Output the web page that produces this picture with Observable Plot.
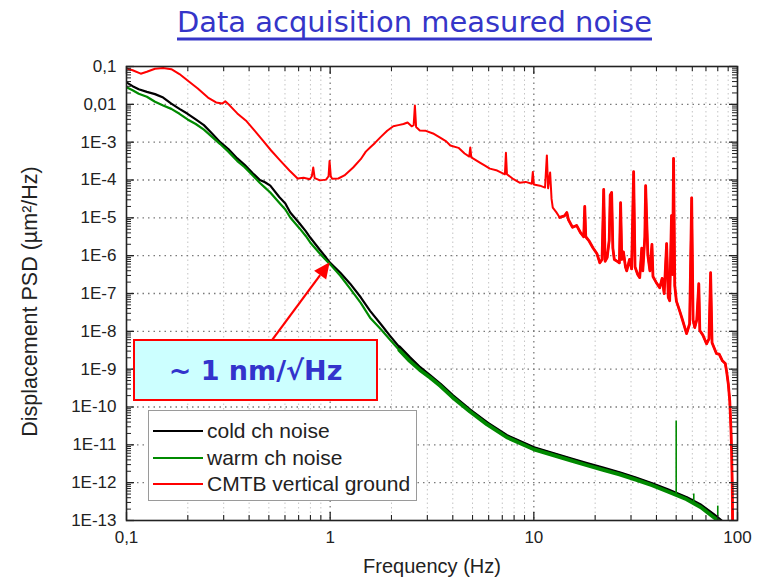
<!DOCTYPE html>
<html>
<head>
<meta charset="utf-8">
<script src="https://cdn.jsdelivr.net/npm/d3@7"></script>
<script src="https://cdn.jsdelivr.net/npm/@observablehq/plot@0.6"></script>
<style>
  body { margin: 0; background: #fff; }
  #wrap { position: relative; width: 758px; height: 587px; overflow: hidden; font-family: "Liberation Sans", Arial, sans-serif; }
  #title { position: absolute; left: 0; top: 0; }
  #chart { position: absolute; left: 0; top: 45px; }
  #legend { position: absolute; left: 148px; top: 410px; width: 269px; height: 91px; background: #fff; border: 1px solid #9a9a9a; box-sizing: border-box; }
  .lrow { position: absolute; left: 0; height: 24px; width: 100%; }
  .lline { position: absolute; left: 4px; width: 50px; top: 11px; height: 0; border-top: 2.5px solid; }
  .ltext { position: absolute; left: 58px; top: 0; font-size: 21px; line-height: 24px; color: #222; white-space: nowrap; }
  #note { position: absolute; left: 133px; top: 339px; width: 245px; height: 62px; background: #ccffff; border: 2.5px solid #ff0000; box-sizing: border-box; display: flex; align-items: center; justify-content: center; font-family: "DejaVu Sans", sans-serif; font-weight: bold; font-size: 27px; color: #3333cc; }
</style>
</head>
<body>
<div id="wrap">
  <div id="title"></div>
  <div id="chart"></div>
  <div id="note"></div>
  <div id="legend"></div>
</div>
<script>
// ---------- texts ----------
const titleText = "Data acquisition measured noise";
const xLabel = "Frequency (Hz)";
const yLabel = "Displacement PSD (µm²/Hz)";
const noteText = "~ 1 nm/√Hz";
const seriesNames = ["cold ch noise", "warm ch noise", "CMTB vertical ground"];
const seriesColors = ["#000000", "#008a00", "#ff0000"];

// ---------- ticks ----------
const xTickValues = [0.1, 1, 10, 100];
const xTickLabels = ["0,1", "1", "10", "100"];
const yTickValues = [1e-13, 1e-12, 1e-11, 1e-10, 1e-9, 1e-8, 1e-7, 1e-6, 1e-5, 1e-4, 1e-3, 1e-2, 1e-1];
const yTickLabels = ["1E-13", "1E-12", "1E-11", "1E-10", "1E-9", "1E-8", "1E-7", "1E-6", "1E-5", "1E-4", "1E-3", "0,01", "0,1"];

// ---------- data (in decades: log10 Hz, log10 µm²/Hz) ----------
const noiseLogF = [
  -1.00,-0.97,-0.94,-0.90,-0.86,-0.82,-0.78,-0.74,-0.70,-0.66,
  -0.62,-0.58,-0.54,-0.50,-0.456,-0.42,-0.38,-0.345,-0.32,-0.294,
  -0.25,-0.22,-0.196,-0.15,-0.12,-0.098,-0.05,-0.02,0.00,0.05,
  0.098,0.15,0.196,0.25,0.294,0.34,0.39,0.44,0.49,0.54,
  0.60,0.686,0.77,0.867,1.0,1.098,1.18,1.26,1.34,1.42,
  1.50,1.58,1.66,1.75,1.82,1.88,1.94];
const coldLogPSD = [
  -1.42,-1.52,-1.60,-1.67,-1.73,-1.82,-1.98,-2.12,-2.25,-2.40,
  -2.55,-2.77,-3.00,-3.18,-3.43,-3.60,-3.82,-4.00,-4.06,-4.15,
  -4.45,-4.62,-4.86,-5.15,-5.35,-5.52,-5.85,-6.05,-6.19,-6.45,
  -6.74,-7.10,-7.46,-7.82,-8.12,-8.42,-8.70,-8.96,-9.18,-9.40,
  -9.70,-10.08,-10.42,-10.76,-11.08,-11.24,-11.37,-11.50,-11.62,-11.74,
  -11.88,-12.03,-12.20,-12.40,-12.60,-12.84,-13.10];
const warmLogPSD = [
  -1.55,-1.63,-1.72,-1.80,-1.93,-2.03,-2.12,-2.25,-2.40,-2.52,
  -2.67,-2.86,-3.05,-3.25,-3.50,-3.66,-3.88,-4.08,-4.20,-4.33,
  -4.60,-4.78,-4.99,-5.28,-5.48,-5.65,-5.95,-6.12,-6.23,-6.53,
  -6.87,-7.25,-7.64,-7.95,-8.22,-8.50,-8.78,-9.02,-9.22,-9.44,
  -9.74,-10.12,-10.46,-10.80,-11.12,-11.28,-11.41,-11.54,-11.66,-11.78,
  -11.92,-12.07,-12.24,-12.44,-12.65,-12.90,-13.15];
const warmSpikeF = [50, 61, 80];
const warmSpikeLogBase = [-12.30, -12.58, -12.90];
const warmSpikeLogTop = [-10.37, -12.30, -12.62];

const groundLogF = [
  -1.00,-0.97,-0.93,-0.90,-0.86,-0.82,-0.78,-0.74,-0.70,-0.65,
  -0.60,-0.56,-0.53,-0.515,-0.495,-0.456,-0.41,-0.37,-0.33,-0.29,
  -0.245,-0.20,-0.16,-0.13,-0.10,-0.09,-0.083,-0.076,-0.05,-0.02,
  -0.008,-0.003,0.003,0.01,0.04,0.07,0.113,0.15,0.175,0.196,
  0.22,0.245,0.28,0.31,0.335,0.36,0.38,0.40,0.41,0.416,
  0.422,0.44,0.47,0.505,0.54,0.57,0.59,0.63,0.66,0.683,
  0.688,0.693,0.735,0.76,0.784,0.82,0.858,0.863,0.868,0.90,
  0.93,0.96,0.99,0.995,1.00,1.03,1.055,1.064,1.07,1.08,
  1.087,1.093,1.11,1.127,1.15,1.162,1.17,1.19,1.21,1.23,
  1.245,1.25,1.255,1.27,1.29,1.31,1.324,1.335,1.343,1.35,
  1.36,1.37,1.375,1.382,1.388,1.395,1.41,1.42,1.426,1.432,
  1.44,1.45,1.456,1.47,1.48,1.49,1.497,1.51,1.52,1.53,
  1.535,1.545,1.549,1.555,1.56,1.57,1.58,1.585,1.60,1.618,
  1.63,1.64,1.652,1.66,1.667,1.676,1.681,1.686,1.692,1.70,
  1.716,1.73,1.75,1.765,1.775,1.782,1.79,1.80,1.81,1.815,
  1.83,1.848,1.86,1.868,1.875,1.89,1.897,1.91,1.926,1.94,
  1.946,1.955,1.962,1.968,1.971,1.974,1.976];
const groundLogPSD = [
  -1.05,-1.10,-1.19,-1.14,-1.06,-1.04,-1.07,-1.20,-1.37,-1.58,
  -1.82,-1.95,-1.98,-1.92,-2.02,-2.24,-2.45,-2.70,-2.96,-3.22,
  -3.49,-3.75,-3.96,-3.94,-3.98,-3.90,-3.67,-3.95,-4.01,-3.99,
  -3.90,-3.50,-3.90,-3.97,-3.96,-3.88,-3.67,-3.45,-3.25,-3.14,
  -3.02,-2.88,-2.70,-2.58,-2.55,-2.52,-2.48,-2.58,-2.55,-2.03,
  -2.60,-2.69,-2.70,-2.77,-2.88,-2.98,-3.09,-3.15,-3.30,-3.38,
  -3.14,-3.40,-3.54,-3.62,-3.70,-3.75,-3.85,-3.28,-3.85,-3.98,
  -4.07,-4.05,-4.10,-3.79,-4.12,-4.15,-4.20,-3.35,-4.22,-3.80,
  -4.50,-4.73,-4.85,-4.99,-4.95,-4.86,-5.05,-5.25,-5.20,-5.40,
  -5.50,-4.70,-5.50,-5.60,-5.79,-5.95,-6.19,-6.10,-4.25,-6.15,
  -6.05,-5.60,-4.40,-4.33,-5.80,-6.10,-6.15,-6.19,-4.60,-6.10,
  -5.90,-6.30,-6.40,-6.10,-6.35,-3.78,-6.30,-6.50,-6.58,-5.80,
  -6.40,-5.50,-4.15,-5.20,-6.00,-6.40,-5.70,-6.55,-6.70,-6.85,
  -6.60,-7.00,-5.68,-7.10,-7.19,-4.94,-6.50,-3.43,-6.80,-7.20,
  -7.46,-7.70,-8.06,-7.80,-4.47,-7.70,-7.90,-7.70,-6.74,-7.98,
  -8.10,-8.33,-8.20,-6.45,-8.30,-8.50,-8.59,-8.60,-8.78,-8.85,
  -9.04,-9.40,-9.84,-10.6,-11.16,-12.0,-13.1];

// annotation arrow: [frequency Hz, PSD]
const arrowFrom = [0.52, 5.6e-9];
const arrowTo = [1.0, 6.5e-7];

// ---------- build tables ----------
const toRows = (lf, lp) => lf.map((v, i) => ({f: Math.pow(10, v), psd: Math.pow(10, lp[i])}));
const cold = toRows(noiseLogF, coldLogPSD);
const warm = toRows(noiseLogF, warmLogPSD);
const ground = toRows(groundLogF, groundLogPSD);
const warmSpikes = warmSpikeF.map((f, i) => ({f, y1: Math.pow(10, warmSpikeLogBase[i]), y2: Math.pow(10, warmSpikeLogTop[i])}));

const minorX = [];
for (const d of [0.1, 1, 10]) for (let k = 2; k <= 9; k++) minorX.push(d * k);
const minorY = [];
for (let e = -13; e <= -2; e++) for (let k = 2; k <= 9; k++) minorY.push(k * Math.pow(10, e));

const W = 758, H = 542, mL = 126, mR = 21, mT = 21, mB = 67;
const pw = W - mL - mR, ph = H - mT - mB;
const xFmt = new Map(xTickValues.map((v, i) => [v, xTickLabels[i]]));
const yFmt = new Map(yTickValues.map((v, i) => [v, yTickLabels[i]]));

const arrowMark = (index, scales) => {
  const ns = "http://www.w3.org/2000/svg";
  const g = document.createElementNS(ns, "g");
  const x1 = scales.x(arrowFrom[0]), y1 = scales.y(arrowFrom[1]);
  const x2 = scales.x(arrowTo[0]), y2 = scales.y(arrowTo[1]);
  const dx = x2 - x1, dy = y2 - y1, len = Math.hypot(dx, dy);
  const ux = dx / len, uy = dy / len, L = 16, Wd = 7.5;
  const bx = x2 - ux * L, by = y2 - uy * L;
  const line = document.createElementNS(ns, "line");
  line.setAttribute("x1", x1); line.setAttribute("y1", y1);
  line.setAttribute("x2", bx); line.setAttribute("y2", by);
  line.setAttribute("stroke", "#ff0000"); line.setAttribute("stroke-width", 2.2);
  g.appendChild(line);
  const head = document.createElementNS(ns, "polygon");
  head.setAttribute("points", `${x2},${y2} ${bx - uy * Wd},${by + ux * Wd} ${bx + uy * Wd},${by - ux * Wd}`);
  head.setAttribute("fill", "#ff0000");
  g.appendChild(head);
  return g;
};

const chart = Plot.plot({
  width: W, height: H,
  marginLeft: mL, marginRight: mR, marginTop: mT, marginBottom: mB,
  style: {fontFamily: "'Liberation Sans', Arial, sans-serif", background: "#fff", color: "#222"},
  x: {type: "log", domain: [0.1, 100], axis: null},
  y: {type: "log", domain: [1e-13, 0.1], axis: null},
  marks: [
    Plot.ruleX(minorX, {x: d => d, stroke: "#c4c4c4", strokeDasharray: "1.5,3"}),
    Plot.ruleX([1, 10], {x: d => d, stroke: "#7a7a7a", strokeWidth: 1.3, strokeDasharray: "1.5,4"}),
    Plot.ruleY(yTickValues.slice(1, -1), {y: d => d, stroke: "#7a7a7a", strokeWidth: 1.3, strokeDasharray: "1.5,4"}),
    // cold
    Plot.line(cold, {x: "f", y: "psd", stroke: seriesColors[0], strokeWidth: 2.2, clip: true}),
    Plot.line(cold.filter(d => d.f >= 2), {x: "f", y: "psd", stroke: seriesColors[0], strokeWidth: 3.5, clip: true}),
    // warm
    Plot.line(warm, {x: "f", y: "psd", stroke: seriesColors[1], strokeWidth: 2.2, clip: true}),
    Plot.line(warm.filter(d => d.f >= 2), {x: "f", y: "psd", stroke: seriesColors[1], strokeWidth: 3.8, clip: true}),
    Plot.ruleX(warmSpikes, {x: "f", y1: "y1", y2: "y2", stroke: seriesColors[1], strokeWidth: 1.6}),
    // ground
    Plot.line(ground, {x: "f", y: "psd", stroke: seriesColors[2], strokeWidth: 2, strokeLinejoin: "round", clip: true}),
    Plot.line(ground.filter(d => d.f >= 13), {x: "f", y: "psd", stroke: seriesColors[2], strokeWidth: 2.8, strokeLinejoin: "round", clip: true}),
    // inward ticks
    Plot.tickX(xTickValues, {x: d => d, insetTop: ph - 8, stroke: "#222", strokeWidth: 1.3}),
    Plot.tickX(xTickValues, {x: d => d, insetBottom: ph - 8, stroke: "#222", strokeWidth: 1.3}),
    Plot.tickX(minorX, {x: d => d, insetTop: ph - 5, stroke: "#222", strokeWidth: 1.1}),
    Plot.tickX(minorX, {x: d => d, insetBottom: ph - 5, stroke: "#222", strokeWidth: 1.1}),
    Plot.tickY(yTickValues, {y: d => d, insetRight: pw - 8, stroke: "#222", strokeWidth: 1.3}),
    Plot.tickY(yTickValues, {y: d => d, insetLeft: pw - 8, stroke: "#222", strokeWidth: 1.3}),
    Plot.tickY(minorY, {y: d => d, insetRight: pw - 5, stroke: "#222", strokeWidth: 1}),
    Plot.tickY(minorY, {y: d => d, insetLeft: pw - 5, stroke: "#222", strokeWidth: 1}),
    Plot.frame({stroke: "#222", strokeWidth: 1.6}),
    // tick labels
    Plot.text(xTickValues, {x: d => d, frameAnchor: "bottom", dy: 22, text: d => xFmt.get(d), fontSize: 17, fill: "#222"}),
    Plot.text(yTickValues, {y: d => d, frameAnchor: "left", dx: -10, textAnchor: "end", text: d => yFmt.get(d), fontSize: 17, fill: "#222"}),
    // axis titles
    Plot.text([xLabel], {frameAnchor: "bottom", dy: 52, text: d => d, fontSize: 20, fill: "#222"}),
    Plot.text([yLabel], {frameAnchor: "left", textAnchor: "middle", dx: -96, dy: 8, rotate: -90, text: d => d, fontSize: 21.5, fill: "#222"}),
    arrowMark
  ]
});
document.getElementById("chart").appendChild(chart);

// title
const ns = "http://www.w3.org/2000/svg";
const tsvg = document.createElementNS(ns, "svg");
tsvg.setAttribute("width", 758); tsvg.setAttribute("height", 45);
const tt = document.createElementNS(ns, "text");
tt.setAttribute("x", 177); tt.setAttribute("y", 32);
tt.setAttribute("textLength", 475); tt.setAttribute("lengthAdjust", "spacingAndGlyphs");
tt.setAttribute("font-family", "'DejaVu Sans', sans-serif");
tt.setAttribute("font-size", 29); tt.setAttribute("fill", "#3535c8");
tt.textContent = titleText;
tsvg.appendChild(tt);
const ul = document.createElementNS(ns, "line");
ul.setAttribute("x1", 177); ul.setAttribute("x2", 652);
ul.setAttribute("y1", 39); ul.setAttribute("y2", 39);
ul.setAttribute("stroke", "#3535c8"); ul.setAttribute("stroke-width", 3);
tsvg.appendChild(ul);
document.getElementById("title").appendChild(tsvg);

// note
document.getElementById("note").textContent = noteText;

// legend
const leg = document.getElementById("legend");
const rowTops = [8, 35, 61];
seriesNames.forEach((name, i) => {
  const row = document.createElement("div");
  row.className = "lrow";
  row.style.top = rowTops[i] + "px";
  const ln = document.createElement("div");
  ln.className = "lline";
  ln.style.borderTopColor = seriesColors[i];
  const tx = document.createElement("div");
  tx.className = "ltext";
  tx.textContent = name;
  row.appendChild(ln); row.appendChild(tx);
  leg.appendChild(row);
});
</script>
</body>
</html>
